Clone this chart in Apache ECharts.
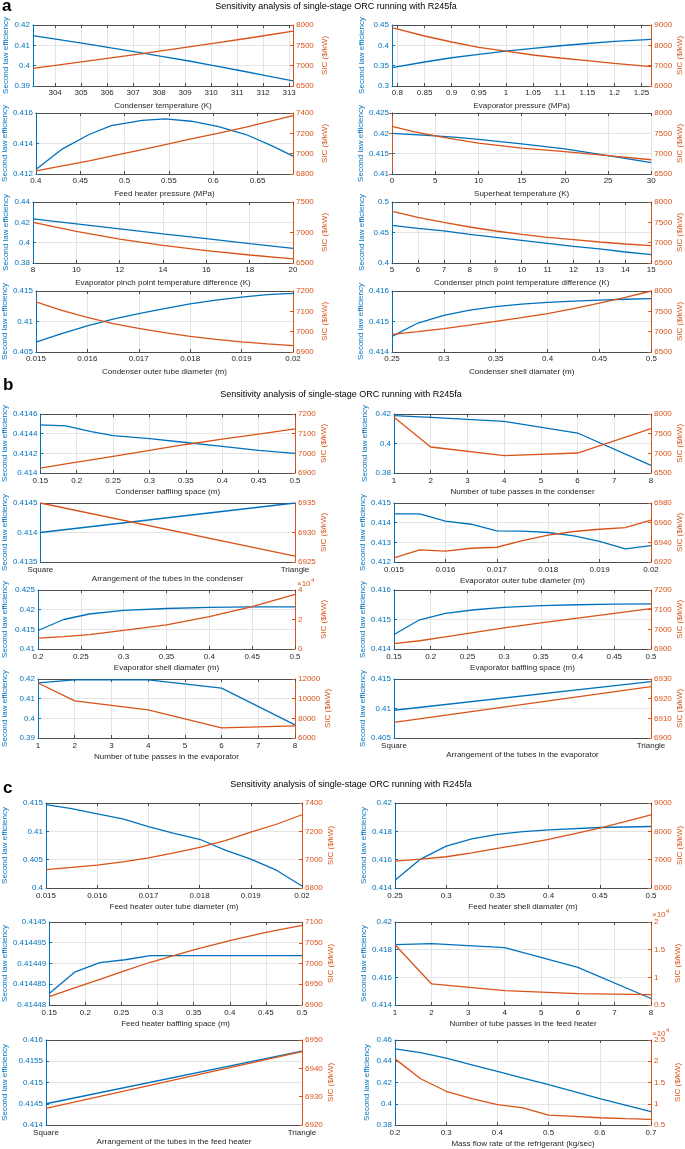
<!DOCTYPE html>
<html><head><meta charset="utf-8">
<script src="https://cdn.jsdelivr.net/npm/echarts@6/dist/echarts.min.js"></script>
<style>html,body{margin:0;padding:0;background:#fff}#c{width:685px;height:1149px}</style>
</head><body><div id="c"></div><script>
// ---------- data ----------
// a1 condenser temperature
const condTempX = [303.15, 304.15, 305.15, 306.15, 307.15, 308.15, 309.15, 310.15, 311.15, 312.15, 313.15];
const condTempEff = [0.4148, 0.4128, 0.4108, 0.4087, 0.4067, 0.4045, 0.4023, 0.3999, 0.3975, 0.3950, 0.3925];
const condTempSic = [6934, 7018, 7104, 7191, 7280, 7370, 7462, 7555, 7650, 7748, 7850];
const condTempTicks = [304, 305, 306, 307, 308, 309, 310, 311, 312, 313];
// a2 evaporator pressure
const evapPX = [0.79, 0.85, 0.9, 0.95, 1.0, 1.05, 1.1, 1.15, 1.2, 1.268];
const evapPEff = [0.345, 0.359, 0.3695, 0.378, 0.386, 0.3925, 0.399, 0.4045, 0.4095, 0.4148];
const evapPSic = [8869, 8459, 8164, 7902, 7710, 7525, 7377, 7246, 7115, 6951];
const evapPTicks = [0.8, 0.85, 0.9, 0.95, 1, 1.05, 1.1, 1.15, 1.2, 1.25];
// a3 feed heater pressure
const fhPX = [0.4, 0.43, 0.46, 0.485, 0.52, 0.546, 0.575, 0.605, 0.637, 0.667, 0.69];
const fhPEff = [0.4123, 0.41365, 0.41459, 0.41517, 0.41552, 0.41561, 0.41546, 0.41513, 0.41459, 0.41383, 0.41317];
const fhPSic = [6830, 6880, 6930, 6975, 7040, 7090, 7145, 7200, 7262, 7325, 7374];
const fhPTicks = [0.4, 0.45, 0.5, 0.55, 0.6, 0.65];
// a4 superheat
const shX = [0, 2.5, 5, 7.5, 10, 15, 20, 25, 30];
const shEff = [0.4200, 0.4197, 0.4194, 0.4190, 0.4185, 0.4174, 0.4162, 0.4145, 0.4128];
const shSic = [7670, 7540, 7440, 7345, 7260, 7135, 7048, 6950, 6850];
// a5 evaporator pinch
const epX = [8, 10, 12, 14, 16, 18, 20];
const epEff = [0.4233, 0.4185, 0.4136, 0.4087, 0.4039, 0.3991, 0.3944];
const epSic = [7167, 7020, 6893, 6790, 6702, 6631, 6566];
// a6 condenser pinch
const cpX = [5, 6, 7, 8, 9, 10, 11, 12, 13, 14, 15];
const cpEff = [0.4617, 0.4568, 0.4525, 0.4470, 0.4421, 0.4372, 0.4322, 0.4273, 0.4230, 0.4180, 0.4137];
const cpSic = [7770, 7623, 7500, 7385, 7287, 7205, 7131, 7074, 7016, 6967, 6926];
// a7 condenser outer tube diameter
const cotX = [0.015, 0.0155, 0.016, 0.0165, 0.017, 0.0175, 0.018, 0.0185, 0.019, 0.0195, 0.02];
const cotEff = [0.4066, 0.4080, 0.4093, 0.4104, 0.4113, 0.4121, 0.4129, 0.4135, 0.4140, 0.4144, 0.4146];
const cotSic = [7146, 7105, 7070, 7040, 7016, 6995, 6977, 6962, 6950, 6940, 6931];
// a8 condenser shell diameter
const csdX = [0.25, 0.275, 0.3, 0.325, 0.35, 0.375, 0.4, 0.425, 0.45, 0.475, 0.5];
const csdEff = [0.41451, 0.41495, 0.41520, 0.41537, 0.41549, 0.41557, 0.41563, 0.41567, 0.41570, 0.41573, 0.41575];
const csdSic = [6935, 7000, 7075, 7160, 7255, 7345, 7444, 7565, 7700, 7845, 8000];
// b1 condenser baffling space
const cbsX = [0.15, 0.185, 0.22, 0.25, 0.3, 0.35, 0.4, 0.45, 0.5];
const cbsEff = [0.41449, 0.41448, 0.41442, 0.41438, 0.41435, 0.41431, 0.41427, 0.41423, 0.41420];
const cbsSic = [6925, 6946, 6967, 6985, 7015, 7045, 7072, 7098, 7124];
// b2 condenser tube passes
const ctpX = [1, 2, 4, 6, 8];
const ctpEff = [0.4189, 0.4177, 0.4150, 0.4071, 0.3852];
const ctpSic = [7915, 7161, 6941, 7008, 7627];
// arrangements
const arrCats = ['Square', 'Triangle'];
const carEff = [0.4140, 0.4145];
const carSic = [6935, 6926];
// b4 evaporator outer tube diameter
const eotX = [0.015, 0.0155, 0.016, 0.0165, 0.017, 0.0175, 0.018, 0.0185, 0.019, 0.0195, 0.02];
const eotEff = [0.41445, 0.41445, 0.41408, 0.41392, 0.41358, 0.41357, 0.41350, 0.41333, 0.41305, 0.41267, 0.41283];
const eotSic = [6924.3, 6932.3, 6931, 6934, 6935, 6941.7, 6947.3, 6951, 6953.3, 6955, 6962.7];
// b5 evaporator shell diameter
const esdX = [0.2, 0.23, 0.26, 0.3, 0.35, 0.4, 0.45, 0.5];
const esdEff = [0.4147, 0.4175, 0.4189, 0.4198, 0.4203, 0.4206, 0.4207, 0.4207];
const esdSic = [7400, 8400, 9700, 12600, 16400, 22000, 28800, 37000];
// b6 evaporator baffling space
const ebsX = [0.15, 0.185, 0.22, 0.26, 0.3, 0.35, 0.4, 0.45, 0.5];
const ebsEff = [0.41449, 0.41499, 0.41521, 0.41533, 0.41541, 0.41547, 0.41550, 0.41552, 0.41553];
const ebsSic = [6927, 6942, 6962, 6985, 7007, 7033, 7057, 7081, 7105];
// b7 evaporator tube passes
const etpX = [1, 2, 4, 6, 8];
const etpEff = [0.4180, 0.4196, 0.4196, 0.4154, 0.3967];
const etpSic = [11590, 9770, 8850, 7030, 7230];
// b8 evaporator arrangement
const earEff = [0.4097, 0.41455];
const earSic = [6907.9, 6926.1];
// c1 feed heater outer tube diameter
const fotX = [0.015, 0.0155, 0.016, 0.0165, 0.017, 0.0175, 0.018, 0.0185, 0.019, 0.0195, 0.02];
const fotEff = [0.4147, 0.4140, 0.4131, 0.4122, 0.41085, 0.40966, 0.4086, 0.4067, 0.4051, 0.40314, 0.40036];
const fotSic = [6930, 6945, 6961, 6985, 7013, 7048, 7087, 7135, 7194, 7250, 7317];
// c2 feed heater shell diameter
const fsdX = [0.25, 0.275, 0.3, 0.325, 0.35, 0.375, 0.4, 0.45, 0.5];
const fsdEff = [0.41455, 0.41604, 0.41696, 0.41746, 0.41779, 0.41798, 0.41810, 0.41827, 0.41834];
const fsdSic = [6949, 7020, 7103, 7240, 7399, 7550, 7719, 8111, 8585];
// c3 feed heater baffling space
const fbsX = [0.15, 0.185, 0.22, 0.255, 0.29, 0.35, 0.4, 0.45, 0.5];
const fbsEff = [0.4144828, 0.4144879, 0.4144902, 0.4144909, 0.4144919, 0.4144919, 0.4144919, 0.4144919, 0.4144919];
const fbsSic = [6920, 6941, 6962, 6983, 7003, 7033, 7055, 7075, 7092];
// c4 feed heater tube passes
const ftpX = [1, 2, 4, 6, 8];
const ftpEff = [0.41837, 0.41844, 0.41815, 0.41672, 0.41447];
const ftpSic = [15900, 8800, 7590, 7050, 6870];
// c5 feed heater arrangement
const farEff = [0.4145, 0.41574];
const farSic = [6925.9, 6945.9];
// c6 mass flow rate
const mfX = [0.2, 0.25, 0.3, 0.35, 0.4, 0.45, 0.5, 0.55, 0.6, 0.65, 0.7];
const mfEff = [0.4516, 0.4482, 0.4429, 0.4367, 0.4304, 0.4242, 0.4180, 0.4115, 0.4049, 0.3987, 0.3925];
const mfSic = [20560, 15890, 12940, 11200, 9800, 9050, 7330, 7020, 6710, 6500, 6320];

const TITLE = 'Sensitivity analysis of single-stage ORC running with R245fa';
const EFF_NAME = 'Second law efficiency', SIC_NAME = 'SIC ($/kW)';

// ---------- layout ----------
const BLUE = '#0072BD', ORANGE = '#D95319', AX = '#4d4d4d', TXT = '#262626', GRID = '#e4e4e4';
const FONT = '"Liberation Sans", Arial, Helvetica, sans-serif';
const gA = [23, 28, 3, 16], gA2 = [26, 24, 3, 16];
const gB = [29, 25, 4, 15], gB2 = [25, 25, 4, 15];
const gC = [37, 24, 4, 15], gC2 = [24, 23, 4, 15];
const panels = [
 {box:[33,25,260,61], xName:'Condenser temperature (K)', xv:condTempX, ef:condTempEff, sc:condTempSic, xr:[303.15,313.15,1], xt:condTempTicks, yl:[0.39,0.42,0.01], yr:[6500,8000,500], g:gA},
 {box:[392,25,260,61], xName:'Evaporator pressure (MPa)', xv:evapPX, ef:evapPEff, sc:evapPSic, xr:[0.79,1.268,0.05], xt:evapPTicks, yl:[0.3,0.45,0.05], yr:[6000,9000,1000], g:gA2},
 {box:[33,113,260,61], xName:'Feed heater pressure (MPa)', xv:fhPX, ef:fhPEff, sc:fhPSic, xr:[0.4,0.69,0.05], xt:fhPTicks, yl:[0.412,0.416,0.002], yr:[6800,7400,200], g:gA},
 {box:[392,113,260,61], xName:'Superheat temperature (K)', xv:shX, ef:shEff, sc:shSic, xr:[0,30,5], yl:[0.41,0.425,0.005], yr:[6500,8000,500], g:gA2},
 {box:[33,202,260,61], xName:'Evaporator pinch point temperature difference (K)', xv:epX, ef:epEff, sc:epSic, xr:[8,20,2], yl:[0.38,0.44,0.02], yr:[6500,7500,500], g:gA},
 {box:[392,202,260,61], xName:'Condenser pinch point temperature difference (K)', xv:cpX, ef:cpEff, sc:cpSic, xr:[5,15,1], yl:[0.4,0.5,0.05], yr:[6500,8000,500], g:gA2},
 {box:[33,291,260,61], xName:'Condenser outer tube diameter (m)', xv:cotX, ef:cotEff, sc:cotSic, xr:[0.015,0.02,0.001], yl:[0.405,0.415,0.005], yr:[6900,7200,100], g:gA},
 {box:[392,291,260,61], xName:'Condenser shell diamater (m)', xv:csdX, ef:csdEff, sc:csdSic, xr:[0.25,0.5,0.05], yl:[0.414,0.416,0.001], yr:[6500,8000,500], g:gA2},

 {box:[38,414,257,59], xName:'Condenser baffling space (m)', xv:cbsX, ef:cbsEff, sc:cbsSic, xr:[0.15,0.5,0.05], yl:[0.414,0.4146,0.0002], yr:[6900,7200,100], g:gB},
 {box:[394,414,257,59], xName:'Number of tube passes in the condenser', xv:ctpX, ef:ctpEff, sc:ctpSic, xr:[1,8,1], yl:[0.38,0.42,0.02], yr:[6500,8000,500], g:gB2},
 {box:[38,503,257,59], xName:'Arrangement of the tubes in the condenser', cats:arrCats, ef:carEff, sc:carSic, yl:[0.4135,0.4145,0.0005], yr:[6925,6935,5], g:[29,25,4,10]},
 {box:[394,503,257,59], xName:'Evaporator outer tube diameter (m)', xv:eotX, ef:eotEff, sc:eotSic, xr:[0.015,0.02,0.001], yl:[0.412,0.415,0.001], yr:[6920,6980,20], g:gB2},
 {box:[38,590,257,59], xName:'Evaporator shell diamater (m)', xv:esdX, ef:esdEff, sc:esdSic, xr:[0.2,0.5,0.05], yl:[0.41,0.425,0.005], yr:[0,40000,20000,1e4], g:gB},
 {box:[394,590,257,59], xName:'Evaporator baffling space (m)', xv:ebsX, ef:ebsEff, sc:ebsSic, xr:[0.15,0.5,0.05], yl:[0.414,0.416,0.001], yr:[6900,7200,100], g:gB2},
 {box:[38,679,257,59], xName:'Number of tube passes in the evaporator', xv:etpX, ef:etpEff, sc:etpSic, xr:[1,8,1], yl:[0.39,0.42,0.01], yr:[6000,12000,2000], g:gB},
 {box:[394,679,257,59], xName:'Arrangement of the tubes in the evaporator', cats:arrCats, ef:earEff, sc:earSic, yl:[0.405,0.415,0.005], yr:[6900,6930,10], g:[25,25,4,12]},

 {box:[46,803,256,85], xName:'Feed heater outer tube diameter (m)', xv:fotX, ef:fotEff, sc:fotSic, xr:[0.015,0.02,0.001], yl:[0.4,0.415,0.005], yr:[6800,7400,200], g:gC},
 {box:[395,803,256,85], xName:'Feed heater shell diamater (m)', xv:fsdX, ef:fsdEff, sc:fsdSic, xr:[0.25,0.5,0.05], yl:[0.414,0.42,0.002], yr:[6000,9000,1000], g:gC2},
 {box:[46,922,256,83], xName:'Feed heater baffling space (m)', xv:fbsX, ef:fbsEff, sc:fbsSic, xr:[0.15,0.5,0.05], yl:[0.41448,0.4145,0.000005], yr:[6900,7100,50], g:gC},
 {box:[395,922,256,83], xName:'Number of tube passes in the feed heater', xv:ftpX, ef:ftpEff, sc:ftpSic, xr:[1,8,1], yl:[0.414,0.42,0.002], yr:[5000,20000,5000,1e4], g:gC2},
 {box:[46,1040,256,85], xName:'Arrangement of the tubes in the feed heater', cats:arrCats, ef:farEff, sc:farSic, yl:[0.414,0.416,0.0005], yr:[6920,6950,10], g:[37,24,4,12]},
 {box:[395,1040,256,85], xName:'Mass flow rate of the refrigerant (kg/sec)', xv:mfX, ef:mfEff, sc:mfSic, xr:[0.2,0.7,0.1], yl:[0.38,0.46,0.02], yr:[5000,25000,5000,1e4], g:gC2}
];

function decimals(iv) { return Math.max(0, -Math.floor(Math.log10(iv) + 1e-9)); }
function fmt(iv, scale) { scale = scale || 1; const d = decimals(iv / scale); return v => String(Number((v / scale).toFixed(d))); }

const grid = [], xAxis = [], yAxis = [], series = [];
panels.forEach((p, i) => {
  grid.push({left: p.box[0], top: p.box[1], width: p.box[2], height: p.box[3], containLabel: false});
  const isCat = !!p.cats;
  const base = isCat ? {type: 'category', data: p.cats, boundaryGap: false}
    : (p.xt ? {type: 'value', min: p.xr[0], max: p.xr[1]} : {type: 'value', min: p.xr[0], max: p.xr[1], interval: p.xr[2]});
  const xf = isCat ? undefined : fmt(p.xr[2]);
  xAxis.push(Object.assign({}, base, {
    gridIndex: i, position: 'bottom',
    axisLine: {onZero: false, lineStyle: {color: AX, width: 1}},
    axisTick: {show: !isCat, inside: true, length: 3, lineStyle: {color: AX}, customValues: p.xt, alignWithLabel: true},
    axisLabel: {color: TXT, fontSize: 8, fontFamily: FONT, margin: p.g[2], customValues: p.xt, formatter: xf},
    splitLine: {show: !isCat, lineStyle: {color: GRID, width: 1}},
    name: p.xName, nameLocation: 'middle', nameGap: p.g[3],
    nameTextStyle: {color: TXT, fontSize: 8, fontFamily: FONT}
  }));
  xAxis.push(Object.assign({}, base, {
    gridIndex: i, position: 'top',
    axisLine: {onZero: false, lineStyle: {color: AX, width: 1}},
    axisTick: {show: !isCat, inside: true, length: 3, lineStyle: {color: AX}, customValues: p.xt},
    axisLabel: {show: false}, splitLine: {show: false}
  }));
  yAxis.push({
    gridIndex: i, type: 'value', position: 'left', min: p.yl[0], max: p.yl[1], interval: p.yl[2],
    axisLine: {show: true, lineStyle: {color: BLUE, width: 1}},
    axisTick: {show: true, inside: true, length: 3, lineStyle: {color: BLUE}},
    axisLabel: {color: BLUE, fontSize: 8, fontFamily: FONT, margin: 3, formatter: fmt(p.yl[2])},
    splitLine: {show: true, lineStyle: {color: GRID, width: 1}},
    name: EFF_NAME, nameLocation: 'middle', nameGap: p.g[0],
    nameTextStyle: {color: BLUE, fontSize: 8, fontFamily: FONT}
  });
  yAxis.push({
    gridIndex: i, type: 'value', position: 'right', min: p.yr[0], max: p.yr[1], interval: p.yr[2],
    axisLine: {show: true, lineStyle: {color: ORANGE, width: 1}},
    axisTick: {show: true, inside: true, length: 3, lineStyle: {color: ORANGE}},
    axisLabel: {color: ORANGE, fontSize: 8, fontFamily: FONT, margin: 3, formatter: fmt(p.yr[2], p.yr[3])},
    splitLine: {show: false},
    name: SIC_NAME, nameLocation: 'middle', nameGap: p.g[1],
    nameTextStyle: {color: ORANGE, fontSize: 8, fontFamily: FONT}
  });
  const effData = isCat ? p.ef : p.xv.map((x, k) => [x, p.ef[k]]);
  const sicData = isCat ? p.sc : p.xv.map((x, k) => [x, p.sc[k]]);
  series.push({type: 'line', xAxisIndex: 2 * i, yAxisIndex: 2 * i, data: effData, showSymbol: false, symbol: 'none',
    lineStyle: {color: BLUE, width: 1.3}, itemStyle: {color: BLUE}, silent: true, z: 3});
  series.push({type: 'line', xAxisIndex: 2 * i, yAxisIndex: 2 * i + 1, data: sicData, showSymbol: false, symbol: 'none',
    lineStyle: {color: ORANGE, width: 1.3}, itemStyle: {color: ORANGE}, silent: true, z: 3});
});

function txt(x, y, s, size, color, opts) {
  return Object.assign({type: 'text', x: x, y: y, silent: true,
    style: Object.assign({text: s, fontSize: size, fontFamily: FONT, fill: color, align: 'center', verticalAlign: 'middle'}, opts || {})});
}
const graphic = [
  txt(2, 6, 'a', 17, '#000', {align: 'left', fontWeight: 'bold'}),
  txt(336, 7, TITLE, 9, '#000'),
  txt(3, 385, 'b', 17, '#000', {align: 'left', fontWeight: 'bold'}),
  txt(341, 395, TITLE, 9, '#000'),
  txt(3, 788, 'c', 17, '#000', {align: 'left', fontWeight: 'bold'}),
  txt(351, 785, TITLE, 9, '#000'),
  txt(297, 584, '×10', 8, ORANGE, {align: 'left'}), txt(311, 580, '4', 6, ORANGE, {align: 'left'}),
  txt(652, 915, '×10', 8, ORANGE, {align: 'left'}), txt(666, 911, '4', 6, ORANGE, {align: 'left'}),
  txt(652, 1034, '×10', 8, ORANGE, {align: 'left'}), txt(666, 1030, '4', 6, ORANGE, {align: 'left'})
];

const chart = echarts.init(document.getElementById('c'), null, {renderer: 'canvas'});
chart.setOption({animation: false, backgroundColor: '#fff', textStyle: {fontFamily: FONT},
  grid: grid, xAxis: xAxis, yAxis: yAxis, series: series, graphic: graphic});
</script></body></html>
